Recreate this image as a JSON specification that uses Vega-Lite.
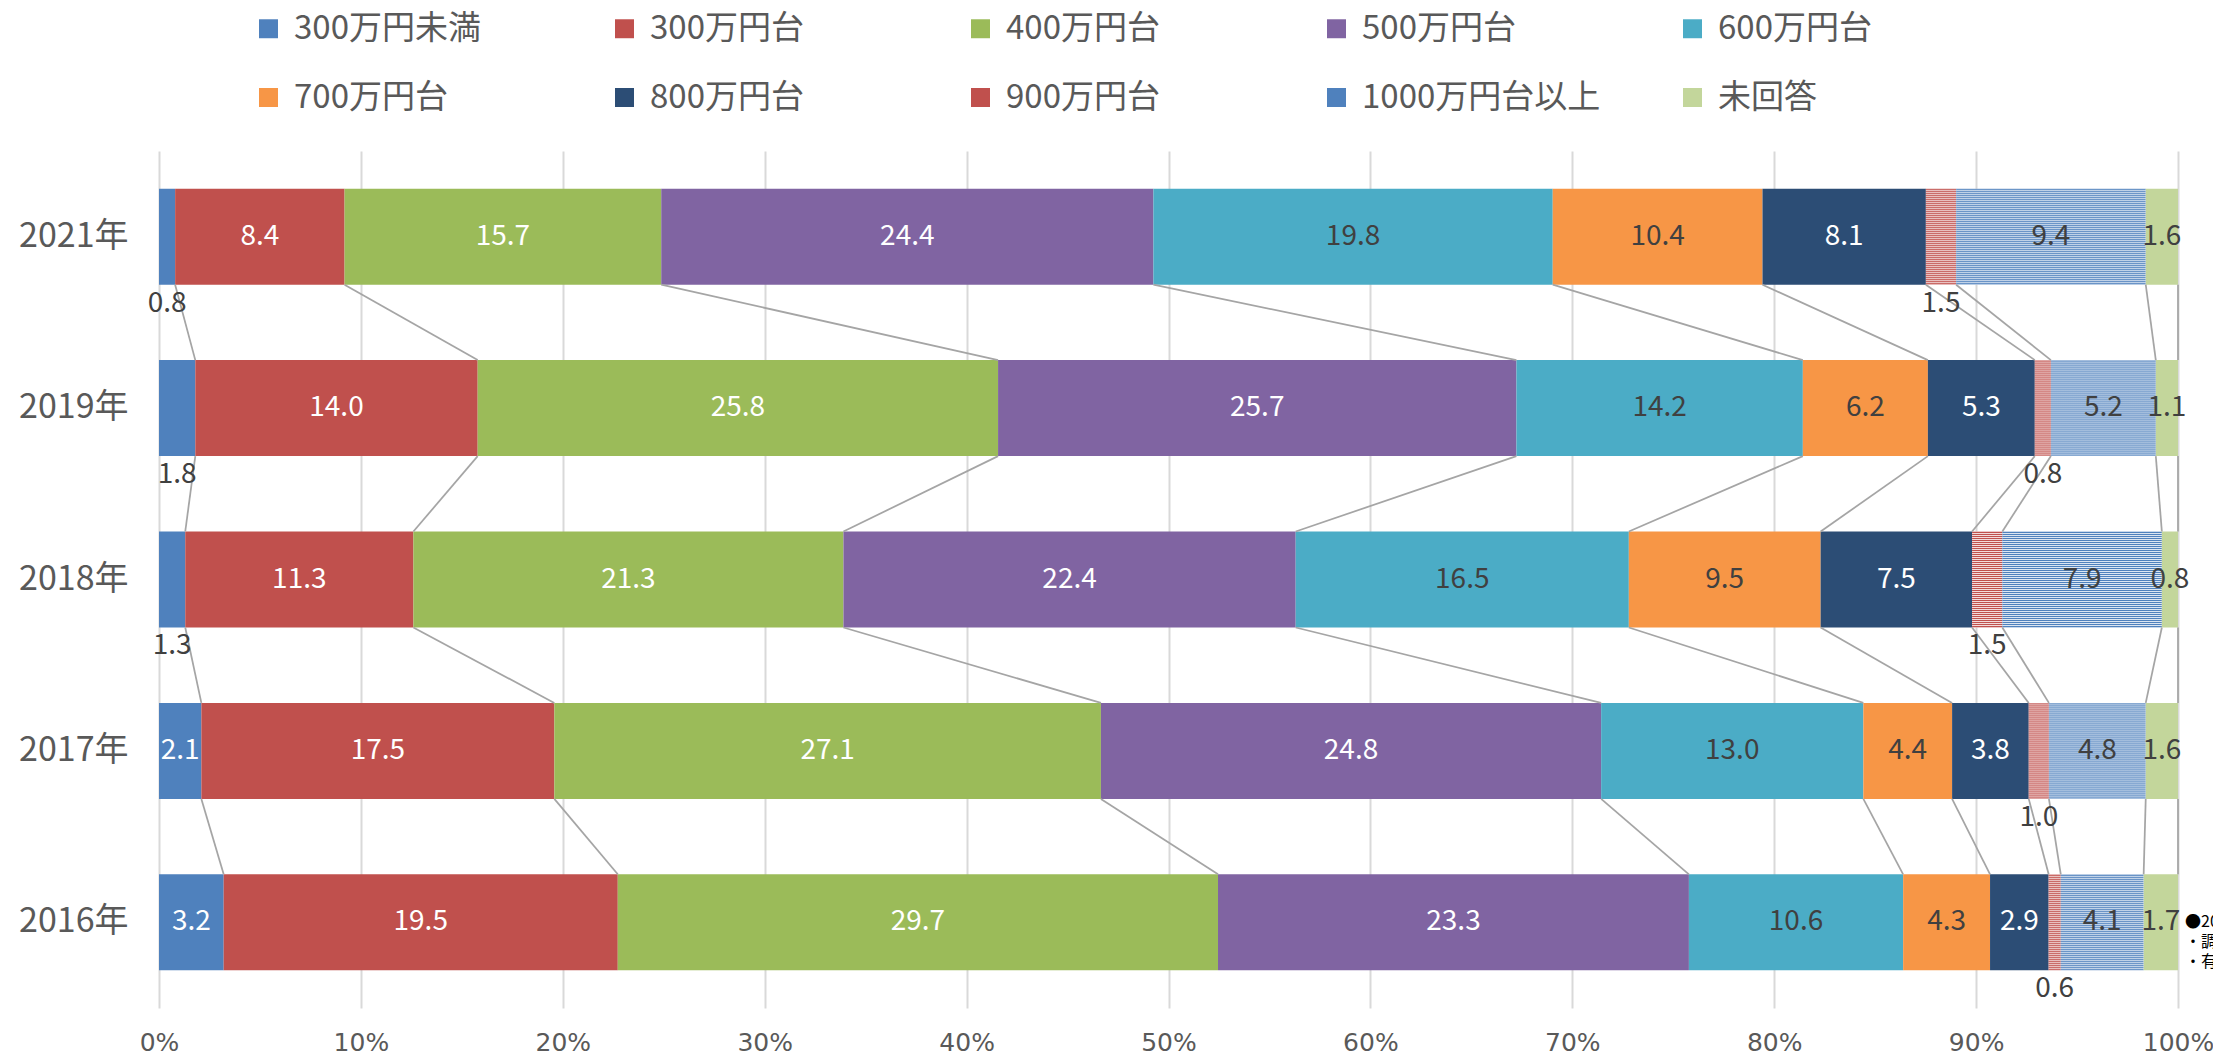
{
  "$schema": "https://vega.github.io/schema/vega-lite/v6.json",
  "width": 2019,
  "height": 857,
  "autosize": {"type": "none"},
  "padding": {"left": 159, "top": 151, "right": 35, "bottom": 47},
  "background": "white",
  "config": {"font": "Noto Sans CJK JP", "view": {"stroke": null}},
  "data": {"values": [
    {"year": "2021年", "cat": "300万円未満", "k": 1, "v": 0.8},
    {"year": "2021年", "cat": "300万円台", "k": 2, "v": 8.4},
    {"year": "2021年", "cat": "400万円台", "k": 3, "v": 15.7},
    {"year": "2021年", "cat": "500万円台", "k": 4, "v": 24.4},
    {"year": "2021年", "cat": "600万円台", "k": 5, "v": 19.8},
    {"year": "2021年", "cat": "700万円台", "k": 6, "v": 10.4},
    {"year": "2021年", "cat": "800万円台", "k": 7, "v": 8.1},
    {"year": "2021年", "cat": "900万円台", "k": 8, "v": 1.5},
    {"year": "2021年", "cat": "1000万円台以上", "k": 9, "v": 9.4},
    {"year": "2021年", "cat": "未回答", "k": 10, "v": 1.6},
    {"year": "2019年", "cat": "300万円未満", "k": 1, "v": 1.8},
    {"year": "2019年", "cat": "300万円台", "k": 2, "v": 14.0},
    {"year": "2019年", "cat": "400万円台", "k": 3, "v": 25.8},
    {"year": "2019年", "cat": "500万円台", "k": 4, "v": 25.7},
    {"year": "2019年", "cat": "600万円台", "k": 5, "v": 14.2},
    {"year": "2019年", "cat": "700万円台", "k": 6, "v": 6.2},
    {"year": "2019年", "cat": "800万円台", "k": 7, "v": 5.3},
    {"year": "2019年", "cat": "900万円台", "k": 8, "v": 0.8},
    {"year": "2019年", "cat": "1000万円台以上", "k": 9, "v": 5.2},
    {"year": "2019年", "cat": "未回答", "k": 10, "v": 1.1},
    {"year": "2018年", "cat": "300万円未満", "k": 1, "v": 1.3},
    {"year": "2018年", "cat": "300万円台", "k": 2, "v": 11.3},
    {"year": "2018年", "cat": "400万円台", "k": 3, "v": 21.3},
    {"year": "2018年", "cat": "500万円台", "k": 4, "v": 22.4},
    {"year": "2018年", "cat": "600万円台", "k": 5, "v": 16.5},
    {"year": "2018年", "cat": "700万円台", "k": 6, "v": 9.5},
    {"year": "2018年", "cat": "800万円台", "k": 7, "v": 7.5},
    {"year": "2018年", "cat": "900万円台", "k": 8, "v": 1.5},
    {"year": "2018年", "cat": "1000万円台以上", "k": 9, "v": 7.9},
    {"year": "2018年", "cat": "未回答", "k": 10, "v": 0.8},
    {"year": "2017年", "cat": "300万円未満", "k": 1, "v": 2.1},
    {"year": "2017年", "cat": "300万円台", "k": 2, "v": 17.5},
    {"year": "2017年", "cat": "400万円台", "k": 3, "v": 27.1},
    {"year": "2017年", "cat": "500万円台", "k": 4, "v": 24.8},
    {"year": "2017年", "cat": "600万円台", "k": 5, "v": 13.0},
    {"year": "2017年", "cat": "700万円台", "k": 6, "v": 4.4},
    {"year": "2017年", "cat": "800万円台", "k": 7, "v": 3.8},
    {"year": "2017年", "cat": "900万円台", "k": 8, "v": 1.0},
    {"year": "2017年", "cat": "1000万円台以上", "k": 9, "v": 4.8},
    {"year": "2017年", "cat": "未回答", "k": 10, "v": 1.6},
    {"year": "2016年", "cat": "300万円未満", "k": 1, "v": 3.2},
    {"year": "2016年", "cat": "300万円台", "k": 2, "v": 19.5},
    {"year": "2016年", "cat": "400万円台", "k": 3, "v": 29.7},
    {"year": "2016年", "cat": "500万円台", "k": 4, "v": 23.3},
    {"year": "2016年", "cat": "600万円台", "k": 5, "v": 10.6},
    {"year": "2016年", "cat": "700万円台", "k": 6, "v": 4.3},
    {"year": "2016年", "cat": "800万円台", "k": 7, "v": 2.9},
    {"year": "2016年", "cat": "900万円台", "k": 8, "v": 0.6},
    {"year": "2016年", "cat": "1000万円台以上", "k": 9, "v": 4.1},
    {"year": "2016年", "cat": "未回答", "k": 10, "v": 1.7}
  ]},
  "transform": [
    {"stack": "v", "groupby": ["year"], "sort": [{"field": "k", "order": "ascending"}], "offset": "normalize", "as": ["x0", "x1"]}
  ],
  "encoding": {
    "y": {"field": "year", "type": "nominal", "sort": "descending",
      "scale": {"paddingInner": 0.44, "paddingOuter": 0.22},
      "axis": {"title": null, "domain": false, "ticks": false, "grid": false, "labelFontSize": 34, "labelColor": "#595959", "labelPadding": 31}}
  },
  "layer": [
    {
      "mark": {"type": "bar"},
      "encoding": {
        "x": {"field": "x0", "type": "quantitative", "scale": {"domain": [0, 1], "nice": false, "zero": true},
          "axis": {"title": null, "values": [0, 0.1, 0.2, 0.3, 0.4, 0.5, 0.6, 0.7, 0.8, 0.9, 1], "format": ".0%", "grid": true, "gridColor": "#D9D9D9", "gridWidth": 2, "domain": false, "ticks": false, "labelFlush": false, "labelFont": "DejaVu Sans", "labelFontSize": 25, "labelColor": "#595959", "labelPadding": 22}},
        "x2": {"field": "x1"},
        "color": {"field": "cat", "type": "nominal",
          "scale": {"domain": ["300万円未満", "300万円台", "400万円台", "500万円台", "600万円台", "700万円台", "800万円台", "900万円台", "1000万円台以上", "未回答"],
            "range": ["#4F81BD", "#C0504D", "#9BBB59", "#8064A2", "#4BACC6", "#F79646", "#2C4D75", "#C0504D", "#4F81BD", "#C3D69B"]},
          "legend": {"title": null, "orient": "none", "legendX": 93, "legendY": -139, "direction": "horizontal", "columns": 5, "gridAlign": "all", "columnPadding": 75, "rowPadding": 35, "symbolType": "square", "symbolSize": 360, "symbolStrokeWidth": 0, "symbolOpacity": 1, "labelFontSize": 33, "labelColor": "#595959", "labelOffset": 9, "labelLimit": 400, "padding": 0}}
      }
    },
    {
      "transform": [{"filter": "datum.cat === '900万円台' || datum.cat === '1000万円台以上'"}],
      "mark": {"type": "bar", "fill": {"gradient": "linear", "x1": 0, "y1": 0, "x2": 0, "y2": 1, "stops": [
        {"offset": 0, "color": "rgba(255,255,255,0.8)"}, {"offset": 0.0104, "color": "rgba(255,255,255,0)"},
        {"offset": 0.0208, "color": "rgba(255,255,255,0.8)"}, {"offset": 0.0313, "color": "rgba(255,255,255,0)"},
        {"offset": 0.0417, "color": "rgba(255,255,255,0.8)"}, {"offset": 0.0521, "color": "rgba(255,255,255,0)"},
        {"offset": 0.0625, "color": "rgba(255,255,255,0.8)"}, {"offset": 0.0729, "color": "rgba(255,255,255,0)"},
        {"offset": 0.0833, "color": "rgba(255,255,255,0.8)"}, {"offset": 0.0938, "color": "rgba(255,255,255,0)"},
        {"offset": 0.1042, "color": "rgba(255,255,255,0.8)"}, {"offset": 0.1146, "color": "rgba(255,255,255,0)"},
        {"offset": 0.125, "color": "rgba(255,255,255,0.8)"}, {"offset": 0.1354, "color": "rgba(255,255,255,0)"},
        {"offset": 0.1458, "color": "rgba(255,255,255,0.8)"}, {"offset": 0.1563, "color": "rgba(255,255,255,0)"},
        {"offset": 0.1667, "color": "rgba(255,255,255,0.8)"}, {"offset": 0.1771, "color": "rgba(255,255,255,0)"},
        {"offset": 0.1875, "color": "rgba(255,255,255,0.8)"}, {"offset": 0.1979, "color": "rgba(255,255,255,0)"},
        {"offset": 0.2083, "color": "rgba(255,255,255,0.8)"}, {"offset": 0.2188, "color": "rgba(255,255,255,0)"},
        {"offset": 0.2292, "color": "rgba(255,255,255,0.8)"}, {"offset": 0.2396, "color": "rgba(255,255,255,0)"},
        {"offset": 0.25, "color": "rgba(255,255,255,0.8)"}, {"offset": 0.2604, "color": "rgba(255,255,255,0)"},
        {"offset": 0.2708, "color": "rgba(255,255,255,0.8)"}, {"offset": 0.2813, "color": "rgba(255,255,255,0)"},
        {"offset": 0.2917, "color": "rgba(255,255,255,0.8)"}, {"offset": 0.3021, "color": "rgba(255,255,255,0)"},
        {"offset": 0.3125, "color": "rgba(255,255,255,0.8)"}, {"offset": 0.3229, "color": "rgba(255,255,255,0)"},
        {"offset": 0.3333, "color": "rgba(255,255,255,0.8)"}, {"offset": 0.3438, "color": "rgba(255,255,255,0)"},
        {"offset": 0.3542, "color": "rgba(255,255,255,0.8)"}, {"offset": 0.3646, "color": "rgba(255,255,255,0)"},
        {"offset": 0.375, "color": "rgba(255,255,255,0.8)"}, {"offset": 0.3854, "color": "rgba(255,255,255,0)"},
        {"offset": 0.3958, "color": "rgba(255,255,255,0.8)"}, {"offset": 0.4063, "color": "rgba(255,255,255,0)"},
        {"offset": 0.4167, "color": "rgba(255,255,255,0.8)"}, {"offset": 0.4271, "color": "rgba(255,255,255,0)"},
        {"offset": 0.4375, "color": "rgba(255,255,255,0.8)"}, {"offset": 0.4479, "color": "rgba(255,255,255,0)"},
        {"offset": 0.4583, "color": "rgba(255,255,255,0.8)"}, {"offset": 0.4688, "color": "rgba(255,255,255,0)"},
        {"offset": 0.4792, "color": "rgba(255,255,255,0.8)"}, {"offset": 0.4896, "color": "rgba(255,255,255,0)"},
        {"offset": 0.5, "color": "rgba(255,255,255,0.8)"}, {"offset": 0.5104, "color": "rgba(255,255,255,0)"},
        {"offset": 0.5208, "color": "rgba(255,255,255,0.8)"}, {"offset": 0.5313, "color": "rgba(255,255,255,0)"},
        {"offset": 0.5417, "color": "rgba(255,255,255,0.8)"}, {"offset": 0.5521, "color": "rgba(255,255,255,0)"},
        {"offset": 0.5625, "color": "rgba(255,255,255,0.8)"}, {"offset": 0.5729, "color": "rgba(255,255,255,0)"},
        {"offset": 0.5833, "color": "rgba(255,255,255,0.8)"}, {"offset": 0.5938, "color": "rgba(255,255,255,0)"},
        {"offset": 0.6042, "color": "rgba(255,255,255,0.8)"}, {"offset": 0.6146, "color": "rgba(255,255,255,0)"},
        {"offset": 0.625, "color": "rgba(255,255,255,0.8)"}, {"offset": 0.6354, "color": "rgba(255,255,255,0)"},
        {"offset": 0.6458, "color": "rgba(255,255,255,0.8)"}, {"offset": 0.6563, "color": "rgba(255,255,255,0)"},
        {"offset": 0.6667, "color": "rgba(255,255,255,0.8)"}, {"offset": 0.6771, "color": "rgba(255,255,255,0)"},
        {"offset": 0.6875, "color": "rgba(255,255,255,0.8)"}, {"offset": 0.6979, "color": "rgba(255,255,255,0)"},
        {"offset": 0.7083, "color": "rgba(255,255,255,0.8)"}, {"offset": 0.7188, "color": "rgba(255,255,255,0)"},
        {"offset": 0.7292, "color": "rgba(255,255,255,0.8)"}, {"offset": 0.7396, "color": "rgba(255,255,255,0)"},
        {"offset": 0.75, "color": "rgba(255,255,255,0.8)"}, {"offset": 0.7604, "color": "rgba(255,255,255,0)"},
        {"offset": 0.7708, "color": "rgba(255,255,255,0.8)"}, {"offset": 0.7813, "color": "rgba(255,255,255,0)"},
        {"offset": 0.7917, "color": "rgba(255,255,255,0.8)"}, {"offset": 0.8021, "color": "rgba(255,255,255,0)"},
        {"offset": 0.8125, "color": "rgba(255,255,255,0.8)"}, {"offset": 0.8229, "color": "rgba(255,255,255,0)"},
        {"offset": 0.8333, "color": "rgba(255,255,255,0.8)"}, {"offset": 0.8438, "color": "rgba(255,255,255,0)"},
        {"offset": 0.8542, "color": "rgba(255,255,255,0.8)"}, {"offset": 0.8646, "color": "rgba(255,255,255,0)"},
        {"offset": 0.875, "color": "rgba(255,255,255,0.8)"}, {"offset": 0.8854, "color": "rgba(255,255,255,0)"},
        {"offset": 0.8958, "color": "rgba(255,255,255,0.8)"}, {"offset": 0.9063, "color": "rgba(255,255,255,0)"},
        {"offset": 0.9167, "color": "rgba(255,255,255,0.8)"}, {"offset": 0.9271, "color": "rgba(255,255,255,0)"},
        {"offset": 0.9375, "color": "rgba(255,255,255,0.8)"}, {"offset": 0.9479, "color": "rgba(255,255,255,0)"},
        {"offset": 0.9583, "color": "rgba(255,255,255,0.8)"}, {"offset": 0.9688, "color": "rgba(255,255,255,0)"},
        {"offset": 0.9792, "color": "rgba(255,255,255,0.8)"}, {"offset": 0.9896, "color": "rgba(255,255,255,0)"},
        {"offset": 1, "color": "rgba(255,255,255,0.8)"}
      ]}},
      "encoding": {
        "x": {"field": "x0", "type": "quantitative"},
        "x2": {"field": "x1"}
      }
    },
    {
      "transform": [
        {"window": [{"op": "lead", "field": "x1", "as": "nx"}, {"op": "lead", "field": "year", "as": "ny"}], "groupby": ["cat"], "sort": [{"field": "year", "order": "descending"}]},
        {"filter": "datum.ny != null"}
      ],
      "mark": {"type": "rule", "color": "#A5A5A5", "strokeWidth": 1.75},
      "encoding": {
        "x": {"field": "x1", "type": "quantitative"},
        "x2": {"field": "nx"},
        "y": {"field": "year", "type": "nominal", "sort": "descending", "bandPosition": 1},
        "y2": {"field": "ny", "bandPosition": 0}
      }
    },
    {
      "mark": {"type": "text", "fontSize": 28},
      "encoding": {
        "x": {"field": "v", "type": "quantitative", "stack": "normalize", "bandPosition": 0.5},
        "order": {"field": "k", "type": "quantitative"},
        "detail": {"field": "cat"},
        "text": {"condition": {"test": "!(datum.cat === '900万円台' || (datum.cat === '300万円未満' && datum.v < 2))", "field": "v", "type": "quantitative", "format": ".1f"}, "value": ""},
        "color": {"condition": {"test": "indexof(['300万円未満','300万円台','400万円台','500万円台','800万円台'], datum.cat) >= 0", "value": "#FFFFFF"}, "value": "#404040"}
      }
    },
    {
      "mark": {"type": "text", "fontSize": 28, "baseline": "top", "dy": 5, "color": "#404040"},
      "encoding": {
        "x": {"field": "v", "type": "quantitative", "stack": "normalize", "bandPosition": 0.5},
        "y": {"field": "year", "type": "nominal", "sort": "descending", "bandPosition": 1},
        "order": {"field": "k", "type": "quantitative"},
        "detail": {"field": "cat"},
        "text": {"condition": {"test": "datum.cat === '900万円台' || (datum.cat === '300万円未満' && datum.v < 2)", "field": "v", "type": "quantitative", "format": ".1f"}, "value": ""}
      }
    },
    {
      "data": {"values": [{"note": "2016"}]},
      "mark": {"type": "text", "text": ["●20", "・調査", "・有効"], "fontSize": 16, "lineHeight": 20, "align": "left", "baseline": "middle", "dx": 7, "color": "#000000"},
      "encoding": {
        "x": {"datum": 1, "type": "quantitative"},
        "y": {"datum": "2016年", "type": "nominal"}
      }
    }
  ]
}
